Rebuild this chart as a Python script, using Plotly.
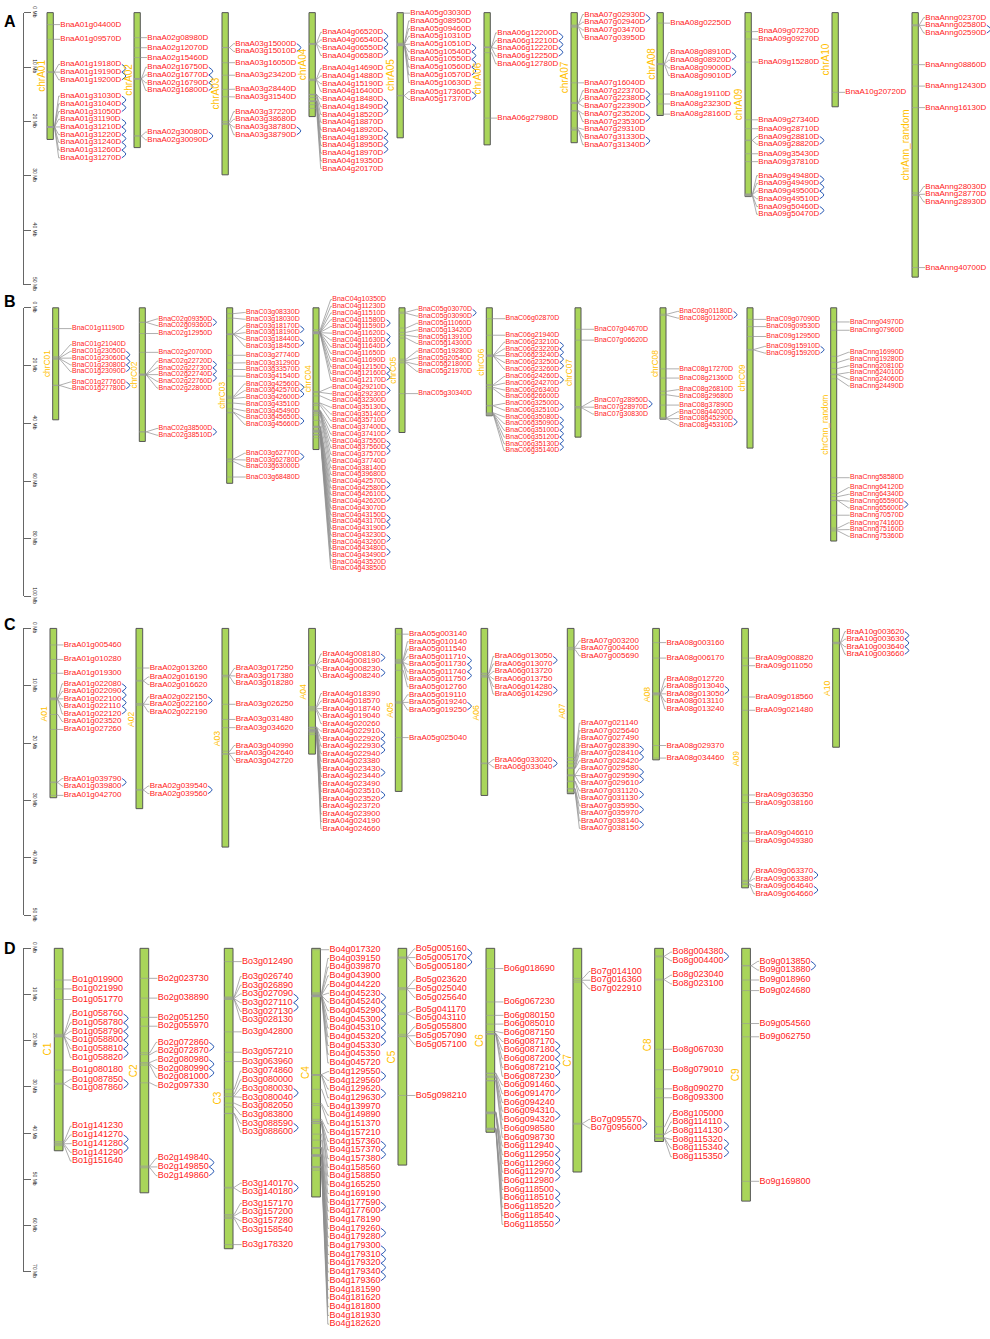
import plotly.graph_objects as go

W, H = 990, 1339
FONT = "Liberation Sans, Arial, Helvetica, sans-serif"

# ---------------------------------------------------------------- data
# every gene: (name, position on the chromosome in Mb, tandem cluster id; 0 = none)

# --- A: Brassica napus, A sub-genome
A_CHR = ["chrA01", "chrA02", "chrA03", "chrA04", "chrA05", "chrA06", "chrA07",
         "chrA08", "chrA09", "chrA10", "chrAnn_random"]
A_LEN = [23.3, 24.8, 29.8, 19.1, 23.0, 24.3, 23.9, 18.9, 33.8, 17.3, 48.6]

BNA_A01 = [("BnaA01g04400D", 2.2, 0), ("BnaA01g09570D", 4.9, 0),
           ("BnaA01g19180D", 10.88, 1), ("BnaA01g19190D", 10.93, 1), ("BnaA01g19200D", 10.98, 1),
           ("BnaA01g31030D", 20.95, 2), ("BnaA01g31040D", 20.97, 2), ("BnaA01g31050D", 20.99, 2),
           ("BnaA01g31190D", 21.0, 3), ("BnaA01g31210D", 21.01, 3), ("BnaA01g31220D", 21.02, 3),
           ("BnaA01g31240D", 21.03, 3), ("BnaA01g31260D", 21.04, 3), ("BnaA01g31270D", 21.06, 3)]
BNA_A02 = [("BnaA02g08980D", 4.6, 0), ("BnaA02g12070D", 6.45, 0), ("BnaA02g15460D", 8.25, 0),
           ("BnaA02g16750D", 12.1, 1), ("BnaA02g16770D", 12.15, 1), ("BnaA02g16790D", 12.2, 1),
           ("BnaA02g16800D", 12.25, 1),
           ("BnaA02g30080D", 22.63, 2), ("BnaA02g30090D", 22.69, 2)]
BNA_A03 = [("BnaA03g15000D", 6.4, 1), ("BnaA03g15010D", 6.44, 1),
           ("BnaA03g16050D", 9.2, 0), ("BnaA03g23420D", 11.5, 0),
           ("BnaA03g28440D", 14.1, 0), ("BnaA03g31540D", 15.46, 0),
           ("BnaA03g37220D", 20.0, 0), ("BnaA03g38680D", 20.3, 0),
           ("BnaA03g38780D", 20.45, 2), ("BnaA03g38790D", 20.5, 2)]
BNA_A04 = [("BnaA04g06520D", 5.65, 1), ("BnaA04g06540D", 5.72, 1), ("BnaA04g06550D", 5.78, 1),
           ("BnaA04g06580D", 5.85, 1),
           ("BnaA04g14690D", 12.2, 0), ("BnaA04g14880D", 12.3, 0), ("BnaA04g15190D", 12.4, 0),
           ("BnaA04g16400D", 12.5, 0),
           ("BnaA04g18480D", 15.0, 2), ("BnaA04g18490D", 15.05, 2), ("BnaA04g18520D", 15.1, 2),
           ("BnaA04g18870D", 15.6, 0),
           ("BnaA04g18920D", 16.2, 3), ("BnaA04g18930D", 16.25, 3), ("BnaA04g18950D", 16.3, 3),
           ("BnaA04g18970D", 16.35, 3),
           ("BnaA04g19350D", 16.9, 0), ("BnaA04g20170D", 17.6, 0)]
BNA_A05 = [("BnaA05g03030D", 0.1, 0),
           ("BnaA05g08950D", 5.6, 0), ("BnaA05g09460D", 5.7, 0), ("BnaA05g10310D", 5.8, 0),
           ("BnaA05g10510D", 5.9, 1), ("BnaA05g10540D", 5.92, 1), ("BnaA05g10550D", 5.94, 1),
           ("BnaA05g10560D", 5.96, 1), ("BnaA05g10570D", 5.98, 1),
           ("BnaA05g10630D", 6.1, 0),
           ("BnaA05g17360D", 15.2, 2), ("BnaA05g17370D", 15.3, 2)]
BNA_A06 = [("BnaA06g12200D", 6.3, 1), ("BnaA06g12210D", 6.35, 1), ("BnaA06g12220D", 6.4, 1),
           ("BnaA06g12250D", 6.45, 1), ("BnaA06g12780D", 7.35, 0),
           ("BnaA06g27980D", 19.38, 0)]
BNA_A07 = [("BnaA07g02930D", 2.3, 1), ("BnaA07g02940D", 2.35, 1), ("BnaA07g03470D", 2.55, 0),
           ("BnaA07g03950D", 2.7, 0),
           ("BnaA07g16040D", 12.9, 0),
           ("BnaA07g22370D", 16.5, 2), ("BnaA07g22380D", 16.6, 2), ("BnaA07g22390D", 16.7, 2),
           ("BnaA07g23520D", 18.0, 3), ("BnaA07g23530D", 18.1, 3),
           ("BnaA07g29310D", 21.2, 0), ("BnaA07g31330D", 21.5, 4), ("BnaA07g31340D", 21.6, 4)]
BNA_A08 = [("BnaA08g02250D", 1.93, 0),
           ("BnaA08g08910D", 9.35, 1), ("BnaA08g08920D", 9.42, 1), ("BnaA08g09000D", 9.48, 2),
           ("BnaA08g09010D", 9.55, 2),
           ("BnaA08g19110D", 14.96, 0), ("BnaA08g23230D", 16.78, 0), ("BnaA08g28160D", 18.65, 0)]
BNA_A09 = [("BnaA09g07230D", 3.51, 0), ("BnaA09g09270D", 4.84, 0), ("BnaA09g15280D", 9.09, 0),
           ("BnaA09g27340D", 19.69, 0), ("BnaA09g28710D", 21.33, 0),
           ("BnaA09g28810D", 23.42, 1), ("BnaA09g28820D", 23.52, 1),
           ("BnaA09g35430D", 25.93, 0), ("BnaA09g37810D", 27.38, 0),
           ("BnaA09g49480D", 33.3, 2), ("BnaA09g49490D", 33.4, 2), ("BnaA09g49500D", 33.45, 2),
           ("BnaA09g49510D", 33.55, 2),
           ("BnaA09g50460D", 33.6, 3), ("BnaA09g50470D", 33.7, 3)]
BNA_A10 = [("BnaA10g20720D", 14.65, 0)]
BNA_ANN = [("BnaAnng02370D", 2.2, 0), ("BnaAnng02580D", 2.35, 1), ("BnaAnng02590D", 2.45, 1),
           ("BnaAnng08860D", 9.56, 0), ("BnaAnng12430D", 13.5, 0), ("BnaAnng16130D", 17.45, 0),
           ("BnaAnng28030D", 33.1, 0), ("BnaAnng28770D", 33.4, 0), ("BnaAnng28930D", 33.6, 0),
           ("BnaAnng40700D", 46.84, 0)]
A_GENES = [BNA_A01, BNA_A02, BNA_A03, BNA_A04, BNA_A05, BNA_A06, BNA_A07,
           BNA_A08, BNA_A09, BNA_A10, BNA_ANN]

# --- B: Brassica napus, C sub-genome
B_CHR = ["chrC01", "chrC02", "chrC03", "chrC04", "chrC05", "chrC06", "chrC07",
         "chrC08", "chrC09", "chrCnn_random"]
B_LEN = [38.8, 46.3, 60.8, 49.1, 43.2, 37.4, 44.8, 38.6, 48.6, 80.8]

BNA_C01 = [("BnaC01g11190D", 7.2, 0),
           ("BnaC01g21040D", 16.9, 0), ("BnaC01g23050D", 17.3, 1), ("BnaC01g23060D", 17.45, 1),
           ("BnaC01g23080D", 17.65, 1), ("BnaC01g23090D", 17.85, 1),
           ("BnaC01g27760D", 26.8, 2), ("BnaC01g27780D", 26.92, 2)]
BNA_C02 = [("BnaC02g09350D", 4.97, 1), ("BnaC02g09360D", 5.07, 1), ("BnaC02g12950D", 8.91, 0),
           ("BnaC02g20700D", 15.43, 0),
           ("BnaC02g22720D", 22.9, 2), ("BnaC02g22730D", 23.05, 2), ("BnaC02g22740D", 23.15, 2),
           ("BnaC02g22760D", 23.25, 2), ("BnaC02g22800D", 23.35, 0),
           ("BnaC02g38500D", 42.92, 3), ("BnaC02g38510D", 43.02, 3)]
BNA_C03 = [("BnaC03g08330D", 2.0, 0), ("BnaC03g18030D", 3.6, 0),
           ("BnaC03g18170D", 9.0, 1), ("BnaC03g18190D", 9.1, 1), ("BnaC03g18440D", 9.2, 2),
           ("BnaC03g18450D", 9.3, 2),
           ("BnaC03g27740D", 16.45, 0), ("BnaC03g31290D", 19.13, 0), ("BnaC03g33570D", 21.36, 0),
           ("BnaC03g41540D", 23.65, 0),
           ("BnaC03g42560D", 30.6, 3), ("BnaC03g42570D", 31.0, 3), ("BnaC03g42600D", 31.4, 3),
           ("BnaC03g43510D", 33.0, 0), ("BnaC03g45490D", 35.0, 0), ("BnaC03g45650D", 36.2, 4),
           ("BnaC03g45660D", 36.4, 4),
           ("BnaC03g62770D", 52.3, 5), ("BnaC03g62780D", 52.6, 5), ("BnaC03g63000D", 53.3, 0),
           ("BnaC03g68480D", 58.62, 0)]
BNA_C04 = [("BnaC04g10350D", 7.6, 0), ("BnaC04g11230D", 8.2, 0), ("BnaC04g11510D", 8.4, 0),
           ("BnaC04g11580D", 8.5, 1), ("BnaC04g11590D", 8.5, 1), ("BnaC04g11620D", 8.6, 2),
           ("BnaC04g11630D", 8.6, 2), ("BnaC04g11640D", 8.65, 2), ("BnaC04g11650D", 8.7, 0),
           ("BnaC04g11690D", 8.75, 0), ("BnaC04g12150D", 8.9, 3), ("BnaC04g12160D", 8.95, 3),
           ("BnaC04g12170D", 9.0, 3),
           ("BnaC04g29210D", 29.0, 4), ("BnaC04g29230D", 29.3, 4), ("BnaC04g32300D", 30.5, 0),
           ("BnaC04g35130D", 33.0, 5), ("BnaC04g35140D", 33.2, 5), ("BnaC04g35710D", 33.8, 0),
           ("BnaC04g37400D", 35.5, 6), ("BnaC04g37410D", 35.6, 6), ("BnaC04g37550D", 35.9, 7),
           ("BnaC04g37560D", 36.0, 7), ("BnaC04g37570D", 36.1, 7), ("BnaC04g37740D", 36.6, 0),
           ("BnaC04g38140D", 37.2, 0), ("BnaC04g39680D", 39.0, 0),
           ("BnaC04g42570D", 41.0, 8), ("BnaC04g42580D", 41.1, 8), ("BnaC04g42610D", 41.4, 9),
           ("BnaC04g42620D", 41.5, 9), ("BnaC04g43070D", 42.3, 0), ("BnaC04g43150D", 42.6, 10),
           ("BnaC04g43170D", 42.7, 10), ("BnaC04g43190D", 42.8, 10), ("BnaC04g43230D", 43.0, 11),
           ("BnaC04g43260D", 43.1, 11), ("BnaC04g43480D", 43.9, 12), ("BnaC04g43490D", 44.0, 12),
           ("BnaC04g43520D", 44.1, 0), ("BnaC04g43850D", 45.0, 0)]
BNA_C05 = [("BnaC05g03070D", 1.5, 1), ("BnaC05g03090D", 1.9, 1),
           ("BnaC05g11060D", 7.0, 0), ("BnaC05g13420D", 8.5, 0), ("BnaC05g13910D", 9.5, 0),
           ("BnaC05g14300D", 10.5, 0),
           ("BnaC05g19280D", 17.8, 0), ("BnaC05g20540D", 18.3, 0), ("BnaC05g21800D", 18.8, 0),
           ("BnaC05g21970D", 19.1, 0),
           ("BnaC05g30340D", 29.72, 0)]
BNA_C06 = [("BnaC06g02870D", 3.77, 0), ("BnaC06g21940D", 9.5, 0),
           ("BnaC06g23210D", 16.3, 1), ("BnaC06g23220D", 16.45, 1), ("BnaC06g23240D", 16.6, 1),
           ("BnaC06g23250D", 16.7, 1), ("BnaC06g23260D", 16.85, 1),
           ("BnaC06g24260D", 26.6, 2), ("BnaC06g24270D", 26.9, 2), ("BnaC06g26340D", 27.6, 0),
           ("BnaC06g26600D", 28.1, 0),
           ("BnaC06g32500D", 33.8, 3), ("BnaC06g32510D", 34.0, 3),
           ("BnaC06g35080D", 36.4, 4), ("BnaC06g35090D", 36.55, 4), ("BnaC06g35100D", 36.7, 4),
           ("BnaC06g35120D", 36.85, 4), ("BnaC06g35130D", 37.0, 4), ("BnaC06g35140D", 37.2, 4)]
BNA_C07 = [("BnaC07g04670D", 7.44, 0), ("BnaC07g06620D", 11.21, 0),
           ("BnaC07g28950D", 34.2, 1), ("BnaC07g28970D", 34.4, 1), ("BnaC07g30830D", 34.75, 0)]
BNA_C08 = [("BnaC08g01180D", 2.2, 1), ("BnaC08g01200D", 2.6, 1),
           ("BnaC08g17270D", 21.15, 0), ("BnaC08g21360D", 24.34, 0),
           ("BnaC08g26810D", 28.9, 0), ("BnaC08g29680D", 30.15, 0), ("BnaC08g37890D", 33.7, 0),
           ("BnaC08g44020D", 38.0, 0), ("BnaC08g45290D", 38.45, 2), ("BnaC08g45310D", 38.55, 2)]
BNA_C09 = [("BnaC09g07090D", 4.01, 0), ("BnaC09g09530D", 6.51, 0), ("BnaC09g12950D", 9.94, 0),
           ("BnaC09g15910D", 14.4, 1), ("BnaC09g15920D", 14.65, 1)]
BNA_CNN = [("BnaCnng04970D", 4.9, 0), ("BnaCnng07960D", 7.78, 0),
           ("BnaCnng16990D", 16.8, 0), ("BnaCnng19280D", 18.9, 0), ("BnaCnng20810D", 21.0, 0),
           ("BnaCnng24010D", 23.0, 0), ("BnaCnng24060D", 23.2, 0), ("BnaCnng24490D", 24.6, 0),
           ("BnaCnng58580D", 58.86, 0),
           ("BnaCnng64120D", 64.3, 0), ("BnaCnng64340D", 65.4, 0), ("BnaCnng65590D", 66.7, 1),
           ("BnaCnng65600D", 66.8, 1),
           ("BnaCnng70570D", 71.85, 0),
           ("BnaCnng74160D", 76.3, 0), ("BnaCnng75160D", 76.9, 0), ("BnaCnng75360D", 77.3, 0)]
B_GENES = [BNA_C01, BNA_C02, BNA_C03, BNA_C04, BNA_C05, BNA_C06, BNA_C07,
           BNA_C08, BNA_C09, BNA_CNN]

# --- C: Brassica rapa
C_CHR = ["A01", "A02", "A03", "A04", "A05", "A06", "A07", "A08", "A09", "A10"]
C_LEN = [29.5, 31.4, 38.1, 21.9, 28.4, 29.1, 28.8, 22.9, 45.2, 20.7]

BRA_A01 = [("BraA01g005460", 2.88, 0), ("BraA01g010280", 5.4, 0), ("BraA01g019300", 7.81, 0),
           ("BraA01g022080", 12.1, 1), ("BraA01g022090", 12.2, 1), ("BraA01g022100", 12.27, 1),
           ("BraA01g022110", 12.35, 1), ("BraA01g022120", 12.45, 1),
           ("BraA01g023520", 15.0, 0), ("BraA01g027260", 17.6, 0),
           ("BraA01g039790", 26.75, 2), ("BraA01g039800", 26.87, 2), ("BraA01g042700", 29.09, 0)]
BRA_A02 = [("BraA02g013260", 6.9, 0), ("BraA02g016190", 9.05, 0), ("BraA02g016620", 9.2, 0),
           ("BraA02g022150", 13.1, 1), ("BraA02g022160", 13.2, 1), ("BraA02g022190", 13.4, 0),
           ("BraA02g039540", 28.05, 2), ("BraA02g039560", 28.2, 2)]
BRA_A03 = [("BraA03g017250", 8.15, 0), ("BraA03g017380", 8.25, 0), ("BraA03g018280", 8.45, 0),
           ("BraA03g026250", 13.22, 0), ("BraA03g031480", 15.86, 0), ("BraA03g034620", 17.29, 0),
           ("BraA03g040990", 21.4, 0), ("BraA03g042640", 21.8, 0), ("BraA03g042720", 21.95, 0)]
BRA_A04 = [("BraA04g008180", 6.3, 1), ("BraA04g008190", 6.38, 1), ("BraA04g008230", 6.45, 2),
           ("BraA04g008240", 6.5, 2),
           ("BraA04g018390", 13.6, 0), ("BraA04g018570", 13.8, 0), ("BraA04g018740", 14.0, 0),
           ("BraA04g019040", 14.1, 0), ("BraA04g020260", 14.35, 0),
           ("BraA04g022910", 17.2, 3), ("BraA04g022920", 17.25, 3), ("BraA04g022930", 17.3, 3),
           ("BraA04g022940", 17.35, 3), ("BraA04g023380", 17.6, 0), ("BraA04g023430", 17.65, 4),
           ("BraA04g023440", 17.7, 4), ("BraA04g023490", 17.75, 0), ("BraA04g023510", 17.8, 5),
           ("BraA04g023520", 17.85, 5), ("BraA04g023720", 17.95, 0), ("BraA04g023900", 18.05, 0),
           ("BraA04g024190", 18.2, 0), ("BraA04g024660", 18.5, 0)]
BRA_A05 = [("BraA05g003140", 1.0, 0),
           ("BraA05g010140", 5.4, 0), ("BraA05g011540", 5.6, 0),
           ("BraA05g011710", 5.8, 1), ("BraA05g011730", 5.9, 1), ("BraA05g011740", 6.0, 1),
           ("BraA05g011750", 6.1, 1), ("BraA05g012760", 7.3, 0),
           ("BraA05g019110", 12.7, 0), ("BraA05g019240", 12.9, 2), ("BraA05g019250", 13.05, 2),
           ("BraA05g025040", 19.02, 0)]
BRA_A06 = [("BraA06g013050", 7.8, 1), ("BraA06g013070", 7.9, 1), ("BraA06g013720", 8.15, 0),
           ("BraA06g013750", 8.2, 0), ("BraA06g014280", 8.4, 2), ("BraA06g014290", 8.5, 2),
           ("BraA06g033020", 23.45, 3), ("BraA06g033040", 23.57, 3)]
BRA_A07 = [("BraA07g003200", 3.3, 0), ("BraA07g004400", 3.45, 0), ("BraA07g005690", 3.7, 0),
           ("BraA07g021140", 22.5, 0), ("BraA07g025640", 23.0, 0), ("BraA07g027490", 23.6, 0),
           ("BraA07g028390", 24.2, 1), ("BraA07g028410", 24.3, 1), ("BraA07g028420", 24.4, 1),
           ("BraA07g029580", 25.5, 2), ("BraA07g029590", 25.6, 2), ("BraA07g029610", 25.7, 2),
           ("BraA07g031120", 26.6, 3), ("BraA07g031130", 26.7, 3),
           ("BraA07g035950", 27.9, 4), ("BraA07g035970", 28.0, 4),
           ("BraA07g038140", 28.5, 5), ("BraA07g038150", 28.6, 5)]
BRA_A08 = [("BraA08g003160", 2.47, 0), ("BraA08g006170", 5.17, 0),
           ("BraA08g012720", 11.2, 0), ("BraA08g013040", 11.35, 1), ("BraA08g013050", 11.4, 1),
           ("BraA08g013110", 11.45, 0), ("BraA08g013240", 11.6, 0),
           ("BraA08g029370", 20.4, 0), ("BraA08g034460", 22.59, 0)]
BRA_A09 = [("BraA09g008820", 5.17, 0), ("BraA09g011050", 6.5, 0),
           ("BraA09g018560", 11.95, 0), ("BraA09g021480", 14.26, 0),
           ("BraA09g036350", 29.02, 0), ("BraA09g038160", 30.34, 0),
           ("BraA09g046610", 35.64, 0), ("BraA09g049380", 37.07, 0),
           ("BraA09g063370", 43.9, 1), ("BraA09g063380", 44.1, 1), ("BraA09g064640", 44.5, 2),
           ("BraA09g064660", 44.6, 2)]
BRA_A10 = [("BraA10g003620", 2.4, 1), ("BraA10g003630", 2.5, 1), ("BraA10g003640", 2.55, 1),
           ("BraA10g003660", 2.67, 1)]
C_GENES = [BRA_A01, BRA_A02, BRA_A03, BRA_A04, BRA_A05, BRA_A06, BRA_A07,
           BRA_A08, BRA_A09, BRA_A10]

# --- D: Brassica oleracea
D_CHR = ["C1", "C2", "C3", "C4", "C5", "C6", "C7", "C8", "C9"]
D_LEN = [43.8, 52.9, 65.0, 53.8, 46.9, 39.8, 48.4, 41.8, 54.7]

BO_C1 = [("Bo1g019900", 6.85, 0), ("Bo1g021990", 8.78, 0), ("Bo1g051770", 11.07, 0),
         ("Bo1g058760", 18.6, 1), ("Bo1g058780", 18.75, 1), ("Bo1g058790", 18.9, 1),
         ("Bo1g058800", 19.0, 1), ("Bo1g058810", 19.1, 1), ("Bo1g058820", 19.17, 1),
         ("Bo1g080180", 26.34, 0), ("Bo1g087850", 29.2, 2), ("Bo1g087860", 29.4, 2),
         ("Bo1g141230", 41.8, 0), ("Bo1g141270", 42.1, 3), ("Bo1g141280", 42.3, 3),
         ("Bo1g141290", 42.4, 3), ("Bo1g151640", 42.7, 0)]
BO_C2 = [("Bo2g023730", 6.49, 0), ("Bo2g038890", 10.77, 0),
         ("Bo2g051250", 14.93, 0), ("Bo2g055970", 16.85, 0),
         ("Bo2g072860", 22.6, 1), ("Bo2g072870", 23.0, 1),
         ("Bo2g080980", 24.7, 2), ("Bo2g080990", 25.0, 2), ("Bo2g081000", 25.3, 2),
         ("Bo2g097330", 29.1, 0),
         ("Bo2g149840", 47.1, 3), ("Bo2g149850", 47.3, 3), ("Bo2g149860", 47.5, 3)]
BO_C3 = [("Bo3g012490", 2.87, 0),
         ("Bo3g026740", 10.5, 0), ("Bo3g026890", 10.65, 0), ("Bo3g027090", 10.8, 1),
         ("Bo3g027110", 10.9, 1), ("Bo3g027130", 11.0, 1), ("Bo3g028130", 11.07, 0),
         ("Bo3g042800", 18.07, 0),
         ("Bo3g057210", 22.48, 0), ("Bo3g063960", 24.5, 0),
         ("Bo3g074860", 30.5, 0), ("Bo3g080000", 31.5, 0), ("Bo3g080030", 32.0, 2),
         ("Bo3g080040", 32.1, 2), ("Bo3g082050", 33.5, 0), ("Bo3g083800", 34.3, 0),
         ("Bo3g088590", 35.7, 3), ("Bo3g088600", 35.75, 3),
         ("Bo3g140170", 51.7, 4), ("Bo3g140180", 51.88, 4),
         ("Bo3g157170", 57.6, 0), ("Bo3g157200", 57.9, 0), ("Bo3g157280", 58.2, 0),
         ("Bo3g158540", 58.45, 0),
         ("Bo3g178320", 64.11, 0)]
BO_C4 = [("Bo4g017320", 0.3, 0), ("Bo4g039150", 9.6, 0), ("Bo4g039870", 9.8, 0),
         ("Bo4g043900", 10.0, 0), ("Bo4g044220", 10.1, 0),
         ("Bo4g045230", 10.2, 1), ("Bo4g045240", 10.2, 1), ("Bo4g045290", 10.25, 1),
         ("Bo4g045300", 10.3, 1), ("Bo4g045310", 10.3, 1), ("Bo4g045320", 10.35, 1),
         ("Bo4g045330", 10.4, 1), ("Bo4g045350", 10.4, 0), ("Bo4g045720", 10.5, 0),
         ("Bo4g129550", 27.3, 2), ("Bo4g129560", 27.35, 2), ("Bo4g129620", 27.45, 3),
         ("Bo4g129630", 27.5, 3), ("Bo4g139970", 30.5, 0), ("Bo4g149890", 33.6, 0),
         ("Bo4g151370", 34.0, 0), ("Bo4g157210", 37.0, 0), ("Bo4g157360", 37.4, 4),
         ("Bo4g157370", 37.45, 4), ("Bo4g157380", 37.5, 4), ("Bo4g158560", 37.8, 0),
         ("Bo4g158850", 37.9, 0), ("Bo4g165250", 40.2, 0), ("Bo4g169190", 41.5, 0),
         ("Bo4g177590", 43.1, 5), ("Bo4g177600", 43.15, 5), ("Bo4g178190", 43.3, 0),
         ("Bo4g179260", 44.6, 6), ("Bo4g179280", 44.7, 6), ("Bo4g179300", 44.8, 7),
         ("Bo4g179310", 44.85, 7), ("Bo4g179320", 44.9, 7), ("Bo4g179340", 44.95, 7),
         ("Bo4g179360", 45.0, 7), ("Bo4g181590", 47.2, 0), ("Bo4g181620", 47.3, 0),
         ("Bo4g181800", 47.4, 0), ("Bo4g181930", 47.5, 0), ("Bo4g182620", 48.0, 0)]
BO_C5 = [("Bo5g005160", 1.85, 1), ("Bo5g005170", 2.0, 1), ("Bo5g005180", 2.15, 1),
         ("Bo5g023620", 8.5, 0), ("Bo5g025040", 8.7, 0), ("Bo5g025640", 8.95, 0),
         ("Bo5g041170", 14.0, 0), ("Bo5g043110", 14.3, 0),
         ("Bo5g055800", 18.6, 0), ("Bo5g057090", 18.95, 0), ("Bo5g057100", 19.1, 0),
         ("Bo5g098210", 31.84, 0)]
BO_C6 = [("Bo6g018690", 4.37, 0),
         ("Bo6g067230", 11.6, 0), ("Bo6g080150", 14.5, 0), ("Bo6g085010", 16.4, 0),
         ("Bo6g087150", 18.0, 0),
         ("Bo6g087170", 18.4, 1), ("Bo6g087180", 18.45, 1), ("Bo6g087200", 18.5, 1),
         ("Bo6g087210", 18.55, 1), ("Bo6g087230", 18.6, 1),
         ("Bo6g091460", 27.0, 2), ("Bo6g091470", 27.1, 2), ("Bo6g094240", 27.6, 0),
         ("Bo6g094310", 27.8, 3), ("Bo6g094320", 27.9, 3),
         ("Bo6g098580", 28.6, 0), ("Bo6g098730", 28.7, 0),
         ("Bo6g112940", 35.4, 4), ("Bo6g112950", 35.5, 4), ("Bo6g112960", 35.6, 4),
         ("Bo6g112970", 35.7, 4), ("Bo6g112980", 35.8, 4),
         ("Bo6g118500", 38.9, 5), ("Bo6g118510", 39.0, 5), ("Bo6g118520", 39.1, 5),
         ("Bo6g118540", 39.2, 6), ("Bo6g118550", 39.3, 6)]
BO_C7 = [("Bo7g014100", 6.5, 0), ("Bo7g016360", 6.9, 0), ("Bo7g022910", 7.3, 0),
         ("Bo7g095570", 37.85, 1), ("Bo7g095600", 38.05, 1)]
BO_C8 = [("Bo8g004380", 1.65, 1), ("Bo8g004400", 1.85, 1),
         ("Bo8g023040", 6.65, 0), ("Bo8g023100", 6.85, 0),
         ("Bo8g067030", 21.84, 0), ("Bo8g079010", 26.27, 0),
         ("Bo8g090270", 30.4, 0), ("Bo8g093300", 32.33, 0),
         ("Bo8g105000", 38.6, 0), ("Bo8g114110", 40.2, 2), ("Bo8g114130", 40.3, 2),
         ("Bo8g115320", 41.0, 3), ("Bo8g115340", 41.1, 3), ("Bo8g115350", 41.2, 3)]
BO_C9 = [("Bo9g013850", 3.7, 1), ("Bo9g013880", 3.82, 1),
         ("Bo9g018960", 6.85, 0), ("Bo9g024680", 9.14, 0),
         ("Bo9g054560", 16.27, 0), ("Bo9g062750", 19.14, 0),
         ("Bo9g169800", 50.41, 0)]
D_GENES = [BO_C1, BO_C2, BO_C3, BO_C4, BO_C5, BO_C6, BO_C7, BO_C8, BO_C9]

# ---------------------------------------------------------------- layout settings
PANELS = [
    dict(tag="A", chroms=A_CHR, lengths=A_LEN, genes=A_GENES,
         band=(0, 290), zero_px=6.7, px_per_mb=5.5, axis_max=50, tick_step=10,
         label_gap=7.8, label_top=0.0, size=8, name_size=10, bar_w=6.3,
         text_pad=7, bulge=4, tag_y=15.5,
         cols=[47, 134, 222, 309, 397, 484, 571, 657, 745, 832, 912]),
    dict(tag="B", chroms=B_CHR, lengths=B_LEN, genes=B_GENES,
         band=(290, 612), zero_px=305, px_per_mb=2.917, axis_max=100, tick_step=20,
         label_gap=6.8, label_top=-2.85, size=7, name_size=8.4, bar_w=6,
         text_pad=13.3, bulge=3.5, tag_y=299,
         cols=[52.7, 139.3, 226.7, 313, 399, 486.3, 575, 660, 747, 830.7]),
    dict(tag="C", chroms=C_CHR, lengths=C_LEN, genes=C_GENES,
         band=(612, 942), zero_px=629, px_per_mb=5.8, axis_max=50, tick_step=10,
         label_gap=7.6, label_top=-0.5, size=8, name_size=8.6, bar_w=6.7,
         text_pad=7, bulge=4, tag_y=625,
         cols=[50, 136, 222, 308.7, 395.3, 481, 567.3, 652.7, 741.7, 832.7]),
    dict(tag="D", chroms=D_CHR, lengths=D_LEN, genes=D_GENES,
         band=(942, 1339), zero_px=952.3, px_per_mb=4.67, axis_max=70, tick_step=10,
         label_gap=8.8, label_top=0.0, size=9, name_size=10, bar_w=8.7,
         text_pad=9, bulge=4.5, tag_y=952.5,
         cols=[54.3, 140, 224.3, 311.7, 398, 486, 573, 654.7, 741.7]),
]

BAR_FILL = "#A9D55A"
BAR_LINE = "#555555"
NAME_COLOR = "#FFC000"
GENE_COLOR = "#FF1A1A"
LINK_COLOR = "#8C8C8C"
TANDEM_COLOR = "#2B5BB5"
AXIS_COLOR = "#666666"

EM = {"A": .667, "B": .667, "C": .722, "D": .722, "a": .556, "n": .556,
      "g": .556, "r": .333, "o": .556}


def text_width(s, size):
    return sum(EM.get(ch, .556) for ch in s) * size


def place_labels(pos, gap, top):
    """Centre each run of close genes on its mean, then push labels down so they never overlap."""
    groups = [[0]]
    for i in range(1, len(pos)):
        if pos[i] - pos[i - 1] < gap:
            groups[-1].append(i)
        else:
            groups.append([i])
    labs = [0.0] * len(pos)
    for g in groups:
        centre = sum(pos[i] for i in g) / len(g)
        first = centre - gap * (len(g) - 1) / 2
        for k, i in enumerate(g):
            labs[i] = first + k * gap
    labs[0] = max(labs[0], top)
    for i in range(1, len(labs)):
        labs[i] = max(labs[i], labs[i - 1] + gap)
    return labs


def axis_keys(n):
    return ("xaxis" if n == 1 else f"xaxis{n}", "yaxis" if n == 1 else f"yaxis{n}",
            "x" if n == 1 else f"x{n}", "y" if n == 1 else f"y{n}")


fig = go.Figure()
layout = dict(width=W, height=H, margin=dict(l=0, r=0, t=0, b=0),
              paper_bgcolor="white", plot_bgcolor="rgba(0,0,0,0)", showlegend=False)
shapes, annotations = [], []

for k, P in enumerate(PANELS):
    xk, yk, xr, yr = axis_keys(k + 1)
    sxk, syk, sxr, syr = axis_keys(k + 5)
    zero, ppm = P["zero_px"], P["px_per_mb"]
    top_px, bot_px = P["band"]

    def to_mb(px):
        return (px - zero) / ppm

    layout[xk] = dict(domain=[0, 1], range=[0, W], visible=False, fixedrange=True, anchor=yr)
    layout[yk] = dict(domain=[1 - bot_px / H, 1 - top_px / H],
                      range=[to_mb(bot_px), to_mb(top_px)],
                      visible=False, fixedrange=True, anchor=xr)

    # Mb scale on the left
    amax = P["axis_max"]
    ticks = list(range(0, amax + 1, P["tick_step"]))
    layout[sxk] = dict(domain=[0, 1], range=[0, W], visible=False, fixedrange=True, anchor=syr)
    layout[syk] = dict(domain=[1 - (zero + amax * ppm) / H, 1 - zero / H], range=[amax, 0],
                       anchor="free", position=23 / W, side="right",
                       showline=True, linecolor=AXIS_COLOR, linewidth=1.3,
                       ticks="outside", ticklen=7, tickwidth=1.2, tickcolor=AXIS_COLOR,
                       tickvals=ticks, ticktext=[f"{t} Mb" for t in ticks], tickangle=90,
                       tickfont=dict(family=FONT, size=5, color="#222222"),
                       showgrid=False, zeroline=False, fixedrange=True)
    fig.add_trace(go.Scatter(x=[None], y=[None], xaxis=sxr, yaxis=syr,
                             hoverinfo="skip", showlegend=False))

    annotations.append(dict(xref="paper", yref="paper", x=10 / W, y=1 - P["tag_y"] / H,
                            text=f"<b>{P['tag']}</b>", showarrow=False,
                            font=dict(family=FONT, size=16, color="black"),
                            xanchor="center", yanchor="middle"))

    gap = P["label_gap"] / ppm
    size = P["size"]
    mark_x, mark_y, link_x, link_y = [], [], [], []
    txt_x, txt_y, txt = [], [], []
    br_x, br_y = [], []

    for name, length, genes, x0 in zip(P["chroms"], P["lengths"], P["genes"], P["cols"]):
        x1 = x0 + P["bar_w"]
        shapes.append(dict(type="rect", xref=xr, yref=yr, x0=x0, x1=x1, y0=0, y1=length,
                           fillcolor=BAR_FILL, line=dict(color=BAR_LINE, width=1),
                           layer="below"))
        annotations.append(dict(xref=xr, yref=yr, x=x0 - P["name_size"] * 0.55 - 0.8,
                                y=length / 2, text=name, textangle=-90, showarrow=False,
                                font=dict(family=FONT, size=P["name_size"], color=NAME_COLOR),
                                xanchor="center", yanchor="middle"))

        gs = sorted(genes, key=lambda g: g[1])
        pos = [g[1] for g in gs]
        labs = place_labels(pos, gap, P["label_top"])
        tx = x1 + P["text_pad"]
        for (gname, p, _), lab in zip(gs, labs):
            mark_x += [x0, x1, None]
            mark_y += [p, p, None]
            link_x += [x1, x1 + 1.2, tx - 1.6, tx - 0.3, None]
            link_y += [p, p, lab, lab, None]
            txt_x.append(tx)
            txt_y.append(lab)
            txt.append(gname)
        for a in range(len(gs) - 1):
            ga, gb = gs[a], gs[a + 1]
            if ga[2] and ga[2] == gb[2]:
                xe = tx + max(text_width(ga[0], size), text_width(gb[0], size)) + 0.6
                br_x += [xe, xe + P["bulge"], xe, None]
                br_y += [labs[a], (labs[a] + labs[a + 1]) / 2, labs[a + 1], None]

    fig.add_trace(go.Scatter(x=mark_x, y=mark_y, mode="lines", xaxis=xr, yaxis=yr,
                             line=dict(color="#9A9A9A", width=0.6),
                             hoverinfo="skip", showlegend=False))
    fig.add_trace(go.Scatter(x=link_x, y=link_y, mode="lines", xaxis=xr, yaxis=yr,
                             line=dict(color=LINK_COLOR, width=0.7),
                             hoverinfo="skip", showlegend=False))
    fig.add_trace(go.Scatter(x=br_x, y=br_y, mode="lines", xaxis=xr, yaxis=yr,
                             line=dict(color=TANDEM_COLOR, width=1, shape="spline"),
                             hoverinfo="skip", showlegend=False))
    fig.add_trace(go.Scatter(x=txt_x, y=txt_y, text=txt, mode="text", xaxis=xr, yaxis=yr,
                             textposition="middle right", cliponaxis=False,
                             textfont=dict(family=FONT, size=size, color=GENE_COLOR),
                             hoverinfo="skip", showlegend=False))

layout["shapes"] = shapes
layout["annotations"] = annotations
fig.update_layout(**layout)

# the page body has a default 8px margin; drop it so the figure sits at the window origin
fig.write_html("out.html", config={"displayModeBar": False},
               post_script="document.body.style.margin='0px';")
